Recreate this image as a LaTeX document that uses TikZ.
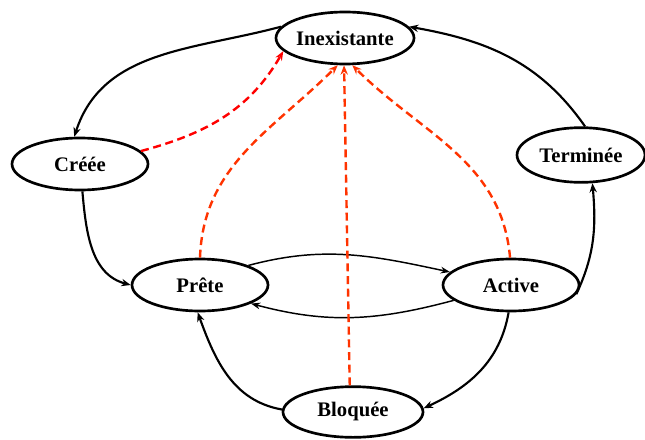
\documentclass[tikz,border=0pt]{standalone}
\usepackage{fontspec}
\setmainfont{Liberation Serif}
\usetikzlibrary{shapes.geometric,arrows.meta}
\definecolor{dashred}{HTML}{FF3300}
\begin{document}
\begin{tikzpicture}[x=0.75pt,y=-0.75pt,
  state/.style={draw,ellipse,line width=2pt,minimum width=102pt,minimum height=39pt,
    inner sep=0pt,font=\bfseries\fontsize{15.5}{18}\selectfont},
  trans/.style={line width=1.6pt,-{Stealth[length=7pt,width=5.5pt]}},
  thin trans/.style={line width=1.1pt,-{Stealth[length=7pt,width=5pt]}},
  kill/.style={dashred,line width=1.8pt,dash pattern=on 6pt off 3.5pt,-{Stealth[length=7pt,width=5.5pt]}}]
\useasboundingbox (0,0) rectangle (645,439);

\node[state] (inex) at (345,38) {Inexistante};
\node[state] (cree) at (80,164) {Créée};
\node[state,minimum width=96pt,minimum height=41pt] (term) at (581,155) {Terminée};
\node[state] (prete) at (200,285) {Prête};
\node[state] (active) at (511,285) {Active};
\node[state,minimum width=105pt,minimum height=38pt] (bloq) at (353,412) {Bloquée};

% life cycle transitions
\draw[trans] (inex.170) to[out=195,in=72] (cree.102);
\draw[trans] (cree.-85) to[out=-85,in=165] (prete.180);
\draw[thin trans] (prete.22) to[out=15,in=168] (active.168);
\draw[thin trans] (active.195) to[out=195,in=-15] (prete.-20);
\draw[trans] (active.-8) to[out=65,in=-85] (term.-68);
\draw[trans] (term.82) to[out=125,in=-10] (inex.10);
\draw[trans] (active.-95) to[out=-100,in=25] (bloq.3);
\draw[trans] (bloq.178) to[out=170,in=-70] (prete.-95);

% destruction from any state
\draw[kill,red] (cree.12) to[out=15,in=-120] (inex.192);
\draw[kill] (prete.90) to[out=88,in=-135] (inex.-105);
\draw[kill] (bloq.97) -- (inex.-92);
\draw[kill] (active.92) to[out=95,in=-45] (inex.-75);
\end{tikzpicture}
\end{document}
